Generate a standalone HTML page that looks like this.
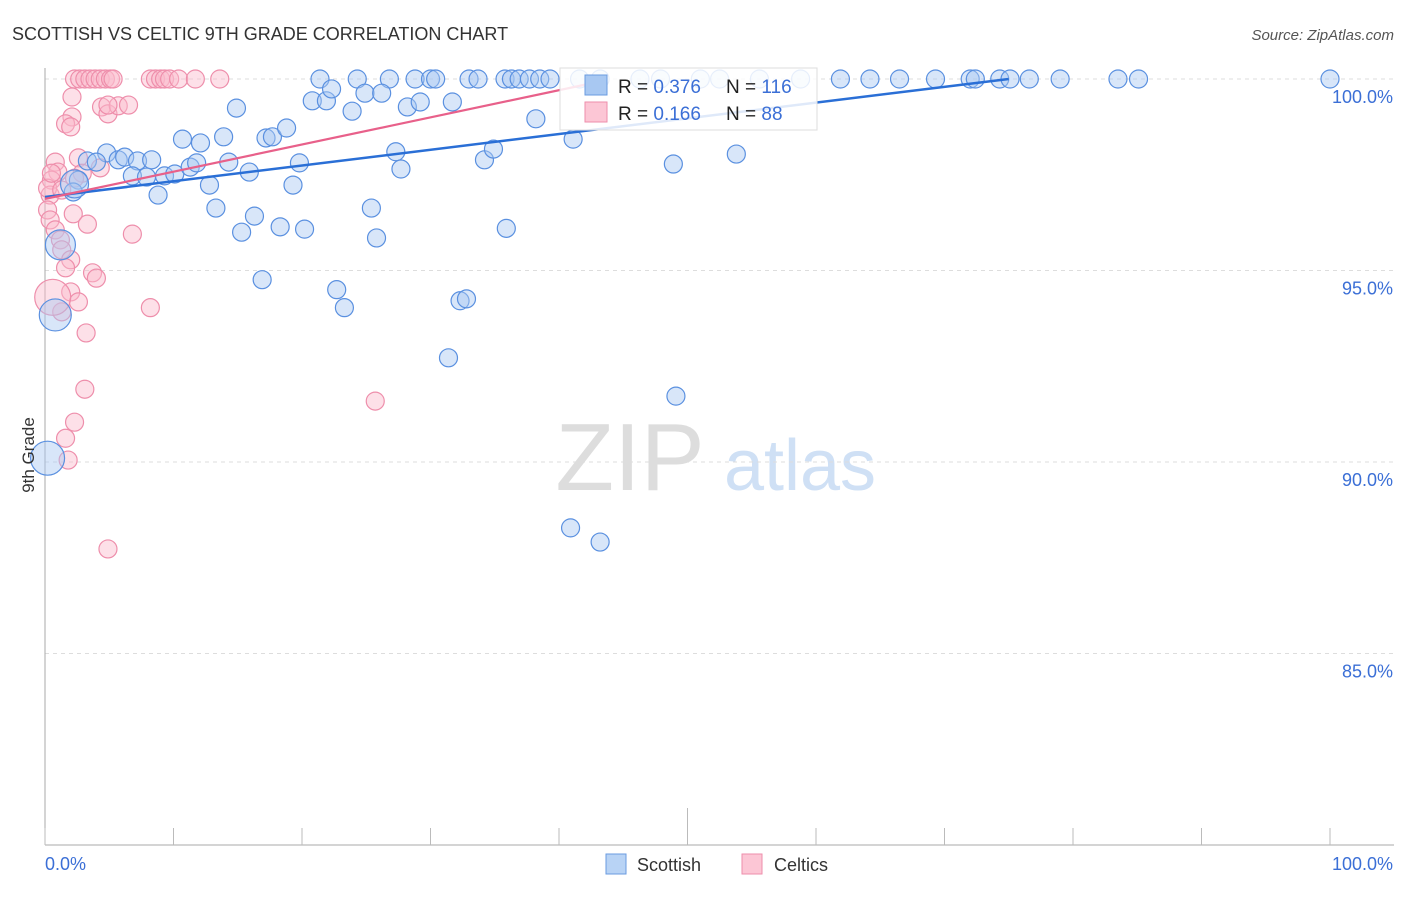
<!DOCTYPE html>
<html><head><meta charset="utf-8"><style>
body{margin:0;background:#fff;font-family:"Liberation Sans",sans-serif;}
svg text{font-family:"Liberation Sans",sans-serif;}
</style></head><body>
<svg id="chart" width="1406" height="892" xmlns="http://www.w3.org/2000/svg">
<text x="12" y="40" font-size="18" fill="#333">SCOTTISH VS CELTIC 9TH GRADE CORRELATION CHART</text>
<text x="1394" y="40" font-size="15" fill="#555" font-style="italic" text-anchor="end">Source: ZipAtlas.com</text>
<text x="630" y="490" font-size="96" fill="#ddd" font-family="Liberation Serif" text-anchor="middle">ZIP</text>
<text x="800" y="490" font-size="72" fill="#cfe0f5" text-anchor="middle">atlas</text>
<g id="grid"></g><g id="axes"></g><g id="pts"></g><g id="lines"></g>
<text x="34" y="455" font-size="17" fill="#333" text-anchor="middle" transform="rotate(-90 34 455)">9th Grade</text>
<text x="45" y="870" font-size="18" fill="#3b6fd6">0.0%</text>
<text x="1393" y="870" font-size="18" fill="#3b6fd6" text-anchor="end">100.0%</text>
<g>
<rect x="606" y="854" width="20" height="20" fill="#b8d3f5" stroke="#6a9be0"/>
<text x="637" y="871" font-size="18" fill="#333">Scottish</text>
<rect x="742" y="854" width="20" height="20" fill="#fcc6d5" stroke="#ee8eab"/>
<text x="774" y="871" font-size="18" fill="#333">Celtics</text>
</g>
<g>
<rect x="560" y="68" width="257" height="62" fill="#fff" fill-opacity="0.85" stroke="#ddd"/>
<rect x="585" y="75" width="22" height="20" fill="#a8c8f2" stroke="#6a9be0"/>
<rect x="585" y="102" width="22" height="20" fill="#fcc6d5" stroke="#ee8eab"/>
<text x="618" y="93" font-size="19" fill="#222">R = <tspan fill="#3b6fd6">0.376</tspan><tspan x="726">N = </tspan><tspan fill="#3b6fd6">116</tspan></text>
<text x="618" y="120" font-size="19" fill="#222">R = <tspan fill="#3b6fd6"> 0.166</tspan><tspan x="726">N = </tspan><tspan fill="#3b6fd6"> 88</tspan></text>
</g>
</svg>
<script>
const yTicks=[100,95,90,85];
const yTickLabels=["100.0%","95.0%","90.0%","85.0%"];
const blueTopX=[21.4,24.3,26.8,28.8,30,30.4,33,33.7,35.8,36.3,36.9,37.7,38.5,39.3,41.6,43.2,46.3,47.9,51,52.5,55.6,58.8,61.9,64.2,66.5,69.3,72,72.4,74.3,75.1,76.6,79,83.5,85.1,100];
const blueX=[14.9,20.8,21.9,22.3,23.9,24.9,26.2,28.2,29.2,31.7,38.2,41.1,48.9,53.8,10.7,12.1,13.9,17.2,17.7,18.8,4.8,3.3,4,5.7,6.2,7.2,8.3,6.8,7.9,9.3,10.1,11.3,11.8,14.3,15.9,19.8,27.3,27.7,34.2,34.9,12.8,19.3,2.6,2.2,8.8,13.3,16.3,15.3,18.3,20.2,25.4,25.8,35.9,16.9,22.7,23.3,32.3,32.8,31.4,49.1,40.9,43.2,0.8,0.2,1.2,2.3];
const blueY=[99.24,99.43,99.43,99.74,99.16,99.63,99.63,99.27,99.4,99.4,98.96,98.43,97.78,98.04,98.43,98.33,98.49,98.46,98.49,98.72,98.07,97.86,97.83,97.89,97.96,97.86,97.89,97.47,97.44,97.47,97.52,97.7,97.81,97.83,97.57,97.81,98.1,97.65,97.89,98.17,97.23,97.23,97.36,97.05,96.97,96.63,96.42,96,96.14,96.08,96.63,95.85,96.1,94.76,94.5,94.03,94.21,94.26,92.72,91.72,88.28,87.91,93.84,90.1,95.67,97.26];
const blueR=[9,9,9,9,9,9,9,9,9,9,9,9,9,9,9,9,9,9,9,9,9,9,9,9,9,9,9,9,9,9,9,9,9,9,9,9,9,9,9,9,9,9,9,9,9,9,9,9,9,9,9,9,9,9,9,9,9,9,9,9,9,9,16,17,15,14];
const pinkTopX=[2.3,2.7,3.1,3.5,3.9,4.3,4.7,5.1,5.3,8.2,8.6,9,9.3,9.7,10.4,11.7,13.6];
const pinkX=[2.1,2.1,1.6,2,4.4,4.9,5.7,6.5,4.9,0.8,1,0.5,0.4,0.2,0.4,0.8,1.2,1.3,2,1.6,0.2,0.5,2.6,2.9,4.3,2.2,3.3,2,2.6,1.3,3.2,3.7,4,6.8,8.2,3.1,2.3,1.6,1.8,4.9,25.7,0.6,1.3,2.3];
const pinkY=[99.53,99.01,98.83,98.75,99.27,99.09,99.3,99.32,99.32,97.83,97.57,97.36,96.97,96.58,96.32,96.06,95.8,95.54,95.28,95.07,97.15,97.54,97.94,97.54,97.68,96.48,96.21,94.44,94.18,93.92,93.37,94.94,94.8,95.95,94.03,91.9,91.04,90.62,90.05,87.73,91.59,94.3,97.1,97.41];
const pinkR=[9,9,9,9,9,9,9,9,9,9,9,9,9,9,9,9,9,9,9,9,9,9,9,9,9,9,9,9,9,9,9,9,9,9,9,9,9,9,9,9,9,18,9,9];
const blueTrend=[[0,96.92],[75,100]];
const pinkTrend=[[0,96.87],[42,99.85]];
const X0=45,X1=1330,Y100=79,PXPER=38.3;
const sx=v=>X0+(X1-X0)*v/100;
const sy=v=>Y100+(100-v)*PXPER;
const NS="http://www.w3.org/2000/svg";
function mk(tag,attrs,parent){const e=document.createElementNS(NS,tag);for(const k in attrs)e.setAttribute(k,attrs[k]);document.getElementById(parent).appendChild(e);return e;}
yTicks.forEach((t,i)=>{
 const l=mk('line',{x1:X0,x2:1394,y1:sy(t),y2:sy(t),stroke:'#ddd','stroke-dasharray':'4 4'},'grid');
 
 
 const tx=mk('text',{x:1393,y:sy(t)+24,'font-size':18,fill:'#3b6fd6','text-anchor':'end'},'grid');
 tx.textContent=yTickLabels[i];
 
 
});
const ya=mk('line',{x1:X0,x2:X0,y1:68,y2:845,stroke:'#aaa'},'axes');


const xa=mk('line',{x1:X0,x2:1394,y1:845,y2:845,stroke:'#aaa'},'axes');


for(let i=0;i<=10;i++){
 const tk=mk('line',{x1:sx(i*10),x2:sx(i*10),y1:i==5?808:828,y2:845,stroke:'#bbb'},'axes');
 
 
}
function dot(x,y,r,blue){
 const c=mk('circle',{cx:sx(x),cy:sy(y),r:r,fill:blue?'#a8c8f2':'#fbbacd','fill-opacity':0.45,stroke:blue?'#5a90e0':'#ee8eab','stroke-width':1.2},'pts');
 
 
}
pinkTopX.forEach(x=>dot(x,100,9,false));
pinkX.forEach((x,i)=>dot(x,pinkY[i],pinkR[i],false));
blueTopX.forEach(x=>dot(x,100,9,true));
blueX.forEach((x,i)=>dot(x,blueY[i],blueR[i],true));
const bl=mk('line',{x1:sx(blueTrend[0][0]),y1:sy(blueTrend[0][1]),x2:sx(blueTrend[1][0]),y2:sy(blueTrend[1][1]),stroke:'#2a6fd6','stroke-width':2.5},'lines');


const pl=mk('line',{x1:sx(pinkTrend[0][0]),y1:sy(pinkTrend[0][1]),x2:sx(pinkTrend[1][0]),y2:sy(pinkTrend[1][1]),stroke:'#e8608a','stroke-width':2.2},'lines');


</script>
</body></html>
